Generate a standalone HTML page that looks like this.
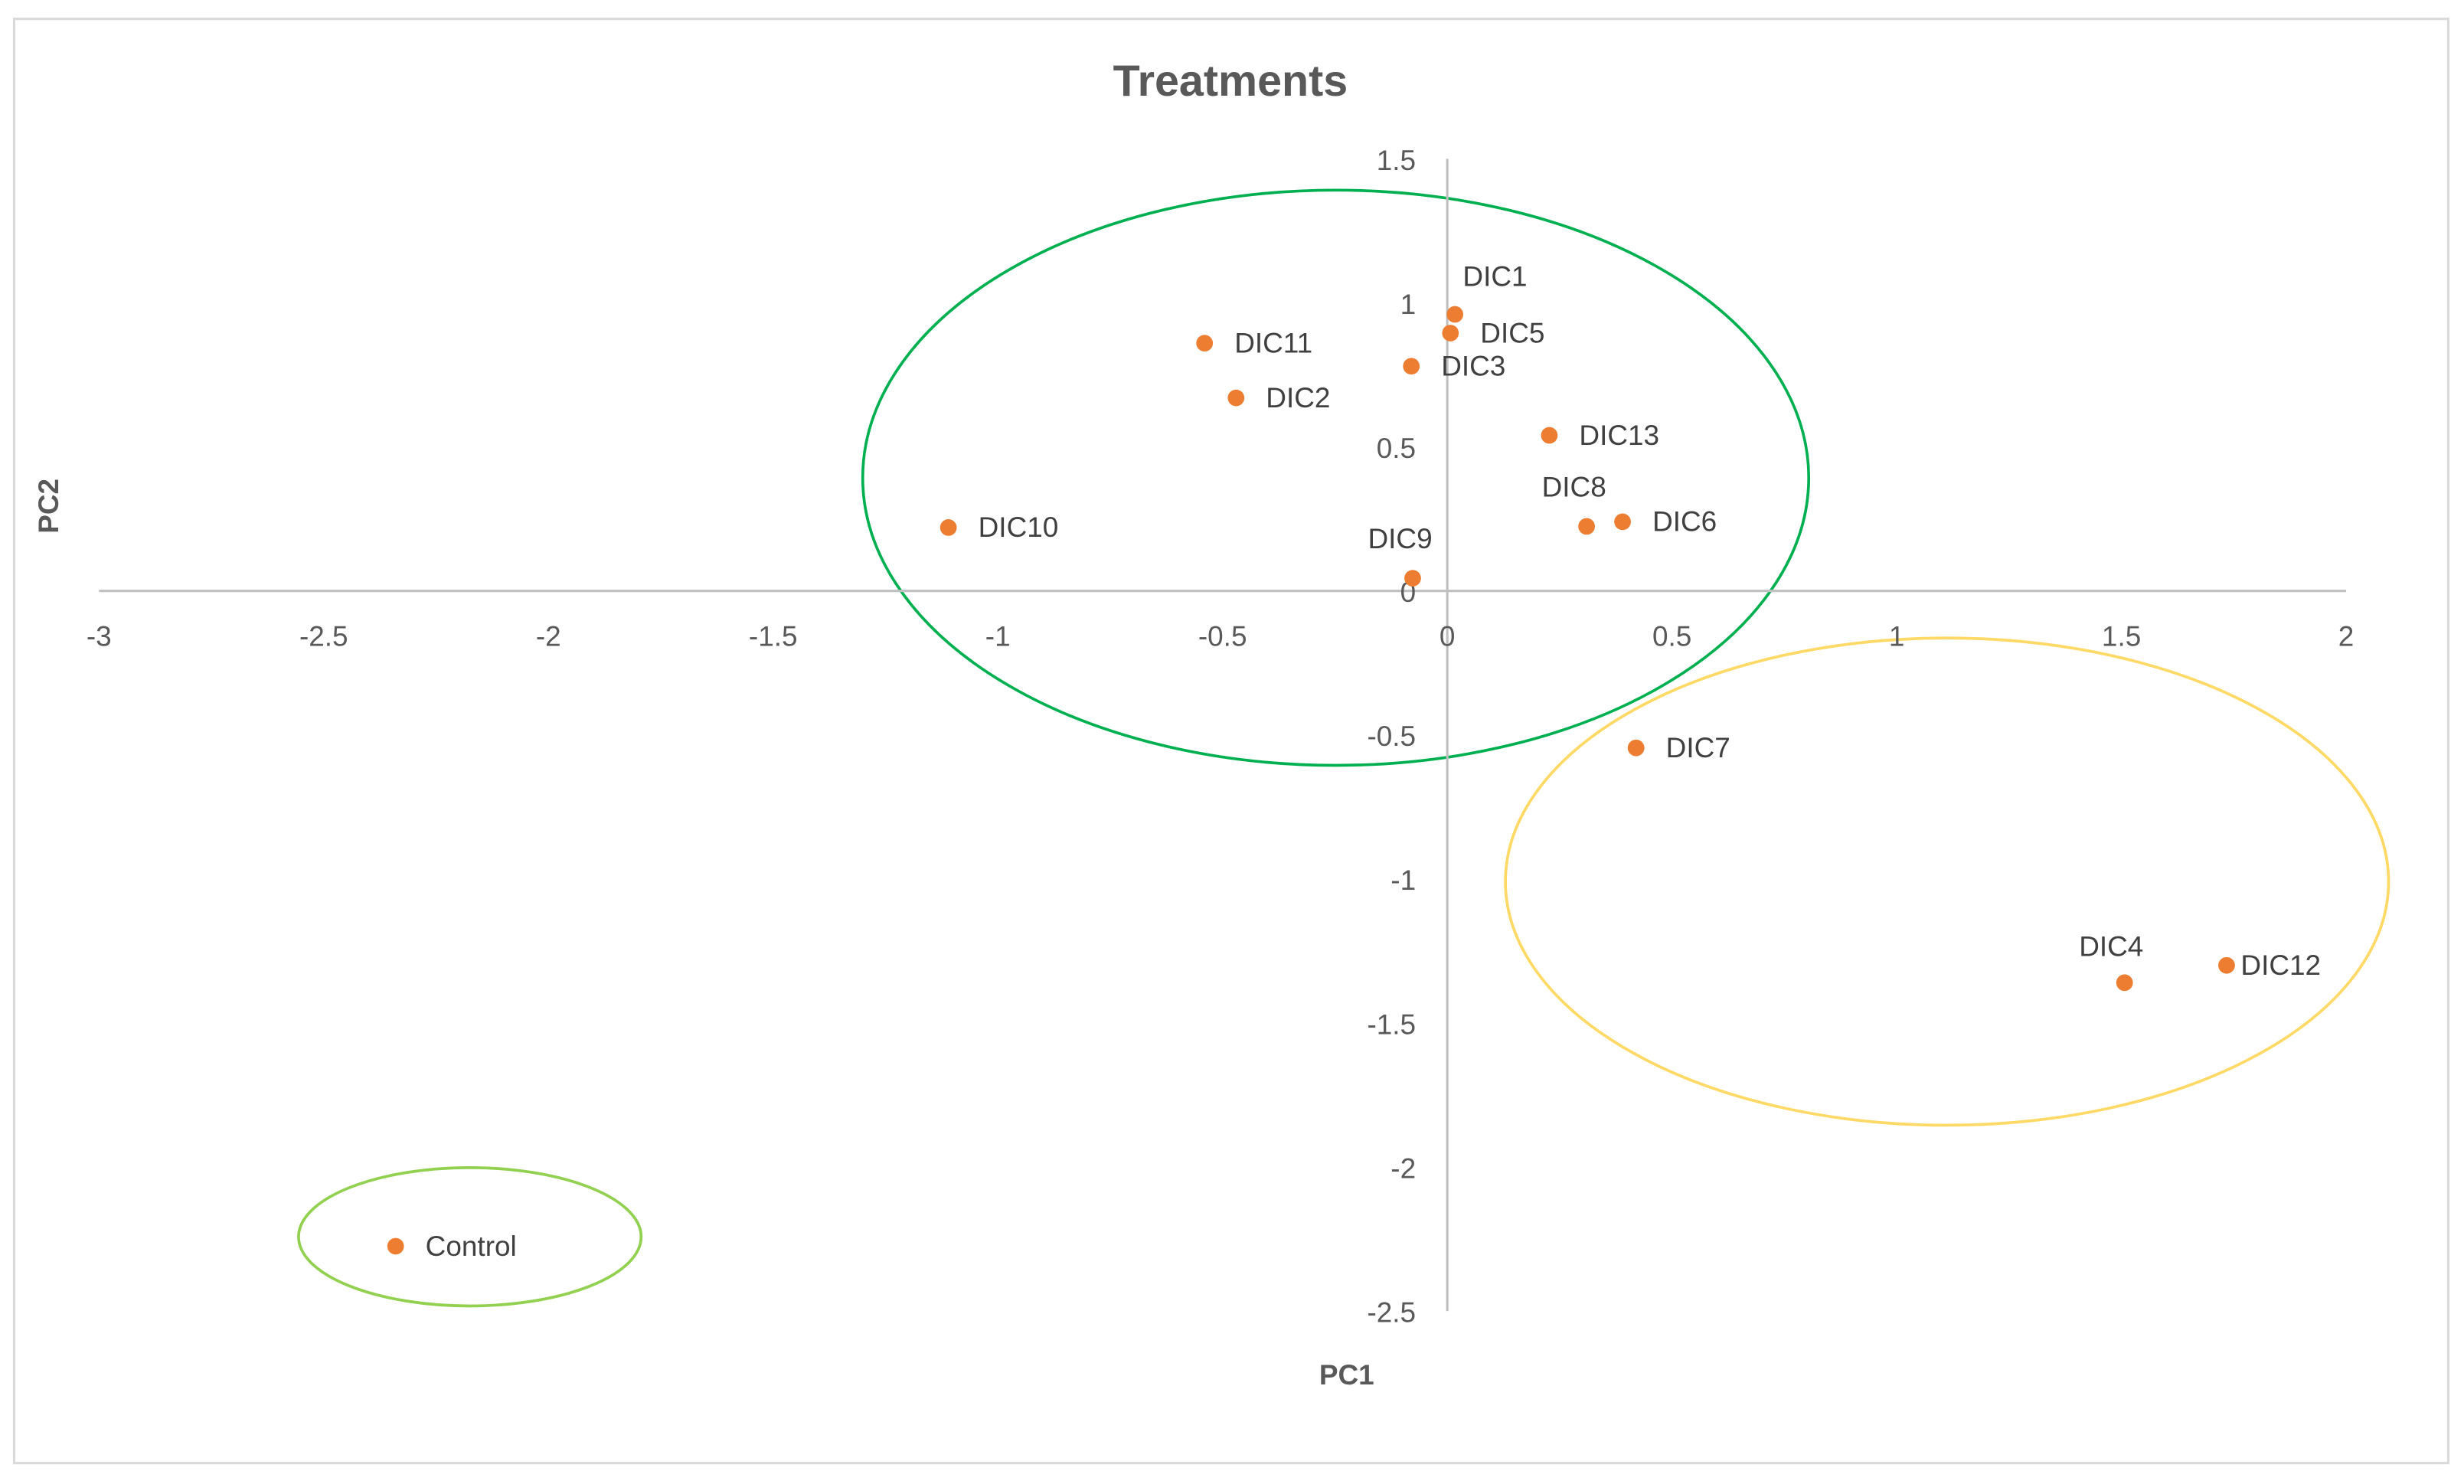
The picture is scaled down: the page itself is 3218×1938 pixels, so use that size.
<!DOCTYPE html>
<html><head><meta charset="utf-8"><style>
html,body{margin:0;padding:0;background:#fff;}
svg{display:block;font-family:"Liberation Sans","DejaVu Sans",sans-serif;}
</style></head><body>
<svg id="chart" width="3218" height="1938" viewBox="0 0 1568 944.3" xmlns="http://www.w3.org/2000/svg">
<rect x="9" y="12" width="1549" height="919" fill="#fff" stroke="#d9d9d9" stroke-width="1.5"/>
<text x="783" y="61" text-anchor="middle" font-size="28" font-weight="bold" fill="#595959">Treatments</text>
<ellipse cx="850" cy="304" rx="301" ry="183" fill="none" stroke="#00b050" stroke-width="1.8"/>
<ellipse cx="1239" cy="561" rx="281" ry="155" fill="none" stroke="#ffd966" stroke-width="1.8"/>
<ellipse cx="299" cy="787" rx="109" ry="44" fill="none" stroke="#92d050" stroke-width="1.8"/>
<g id="axes"></g>
<g id="points"></g>
<text x="857" y="881" text-anchor="middle" font-size="18" font-weight="bold" fill="#595959">PC1</text>
<text x="37" y="322" text-anchor="middle" font-size="18" font-weight="bold" fill="#595959" transform="rotate(-90 37 322)">PC2</text>
</svg>
<script>
const xTicks = [-3,-2.5,-2,-1.5,-1,-0.5,0,0.5,1,1.5,2];
const yTicks = [1.5,1,0.5,0,-0.5,-1,-1.5,-2,-2.5];
const names = ["DIC1","DIC5","DIC3","DIC11","DIC2","DIC13","DIC8","DIC6","DIC10","DIC9","DIC7","DIC4","DIC12","Control"];
const pc1 = [0.017,0.007,-0.08,-0.54,-0.47,0.227,0.31,0.39,-1.11,-0.077,0.42,1.507,1.734,-2.34];
const pc2 = [0.96,0.895,0.78,0.86,0.67,0.54,0.224,0.24,0.22,0.044,-0.545,-1.36,-1.30,-2.275];
const labelPos = ["above","right","right","right","right","right","aboveLeft","right","right","aboveLeft","right","above","near","right"];

const NS="http://www.w3.org/2000/svg";
function sx(v){return 921+v*286;}
function sy(v){return 376-v*183.3;}
function mk(tag,attrs,parent){const e=document.createElementNS(NS,tag);for(const k in attrs)e.setAttribute(k,attrs[k]);parent.appendChild(e);return e;}
const axes=document.getElementById('axes');
const xl=mk('line',{x1:sx(-3),x2:sx(2),y1:sy(0),y2:sy(0),stroke:'#bfbfbf','stroke-width':1.5},axes);


const yl=mk('line',{x1:sx(0),x2:sx(0),y1:sy(1.5),y2:sy(-2.5),stroke:'#bfbfbf','stroke-width':1.5},axes);


xTicks.forEach(t=>{
  const e=mk('text',{x:sx(t),y:411,'text-anchor':'middle','font-size':18,fill:'#595959'},axes);
  e.textContent=String(t);
  
  
});
yTicks.forEach(t=>{
  const e=mk('text',{x:901,y:sy(t)+7,'text-anchor':'end','font-size':18,fill:'#595959'},axes);
  e.textContent=String(t);
  
  
});
const pts=document.getElementById('points');
names.forEach((n,i)=>{
  const x=sx(pc1[i]),y=sy(pc2[i]);
  const c=mk('circle',{cx:x,cy:y,r:5.3,fill:'#ed7d31'},pts);
  
  
  let lx=x+19,ly=y+6,anc='start';
  if(labelPos[i]==='near'){lx=x+9;}
  if(labelPos[i]==='above'){lx=x+6;ly=y-18;}
  if(n==='DIC4'){lx=x-29;ly=y-17;}
  if(labelPos[i]==='aboveLeft'){lx=x-8;ly=y-19;anc='middle';}
  if(n==='DIC1'){lx=x+5;ly=y-18;}
  const t=mk('text',{x:lx,y:ly,'text-anchor':anc,'font-size':18,fill:'#404040'},pts);
  t.textContent=n;
  
  
});
</script>
</body></html>
